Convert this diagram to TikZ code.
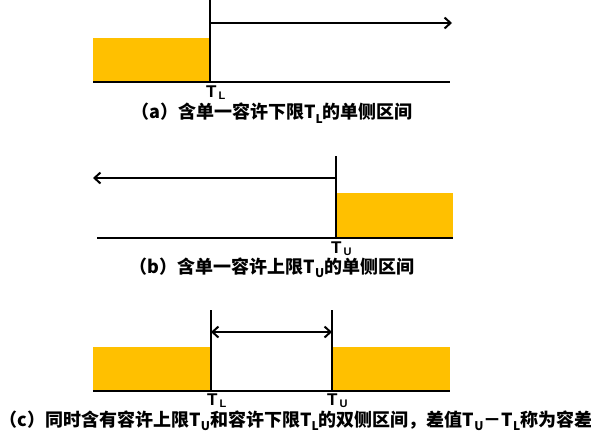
\documentclass[tikz,border=0pt]{standalone}
\usepackage{fontspec}
\setmainfont{Liberation Sans}
\newfontfamily\cjk{Noto Sans CJK SC}
\usetikzlibrary{arrows.meta}
\definecolor{gold}{HTML}{FFC000}
\newcommand\lsub[1]{\raisebox{-0.25em}{\fontsize{12}{12}\selectfont #1}}
\newcommand\tsub[1]{\kern2pt\raisebox{-0.15em}{\fontsize{11}{11}\selectfont\bfseries #1}}
\begin{document}
\begin{tikzpicture}[x=1pt,y=-1pt,
  axis/.style={line width=2.8pt},
  bar/.style={fill=gold,draw=none},
  lim/.style={line width=2.8pt},
  span/.style={line width=2pt,-{Straight Barb[length=6pt,width=11pt,line width=2pt]}},
  dspan/.style={line width=2pt,{Straight Barb[length=6pt,width=11pt,line width=2pt]}-{Straight Barb[length=6pt,width=11pt,line width=2pt]}},
  tlab/.style={font=\bfseries\fontsize{17}{17}\selectfont, inner sep=0pt, anchor=west, text height=12pt, text depth=0pt},
  captxt/.style={font=\cjk\bfseries\fontsize{18}{18}\selectfont, inner sep=0pt}]
\useasboundingbox (0,0) rectangle (591,437);
% ---------- (a)
\fill[bar] (93,38) rectangle (210,82);
\coordinate (a0) at (93,82);
\coordinate (a1) at (450,82);
\coordinate (aTop) at (210,0);
\coordinate (aBot) at (210,82);
\coordinate (aArS) at (210,23);
\coordinate (aArE) at (452,23);
\draw[axis] (a0) -- (a1);
\draw[lim] (aTop) -- (aBot);
\draw[span] (aArS) -- (aArE);
\node[tlab] (aTL) at (206,91) {\textbf{T}\tsub{L}};
\node[captxt] (capA) at (272,113) {（a）含单一容许下限T\lsub{L}的单侧区间};
% ---------- (b)
\fill[bar] (336,193) rectangle (453,238);
\coordinate (b0) at (97,238);
\coordinate (b1) at (453,238);
\coordinate (bTop) at (336,156);
\coordinate (bBot) at (336,238);
\coordinate (bArS) at (336,178);
\coordinate (bArE) at (93,178);
\draw[axis] (b0) -- (b1);
\draw[lim] (bTop) -- (bBot);
\draw[span] (bArS) -- (bArE);
\node[tlab] (bTU) at (331,247) {\textbf{T}\tsub{U}};
\node[captxt] (capB) at (272,268) {（b）含单一容许上限T\lsub{U}的单侧区间};
% ---------- (c)
\fill[bar] (93,347) rectangle (211,391);
\fill[bar] (332,347) rectangle (450,391);
\coordinate (c0) at (93,391);
\coordinate (c1) at (450,391);
\coordinate (cLTop) at (211,310);
\coordinate (cLBot) at (211,391);
\coordinate (cUTop) at (332,310);
\coordinate (cUBot) at (332,391);
\coordinate (cArS) at (211,332);
\coordinate (cArE) at (332,332);
\draw[axis] (c0) -- (c1);
\draw[lim] (cLTop) -- (cLBot);
\draw[lim] (cUTop) -- (cUBot);
\draw[dspan] (cArS) -- (cArE);
\node[tlab] (cTL) at (207,399) {\textbf{T}\tsub{L}};
\node[tlab] (cTU) at (327,399) {\textbf{T}\tsub{U}};
\node[captxt] (capC) at (296,421) {（c）同时含有容许上限T\lsub{U}和容许下限T\lsub{L}的双侧区间，差值T\lsub{U}－T\lsub{L}称为容差};
\end{tikzpicture}
\end{document}
